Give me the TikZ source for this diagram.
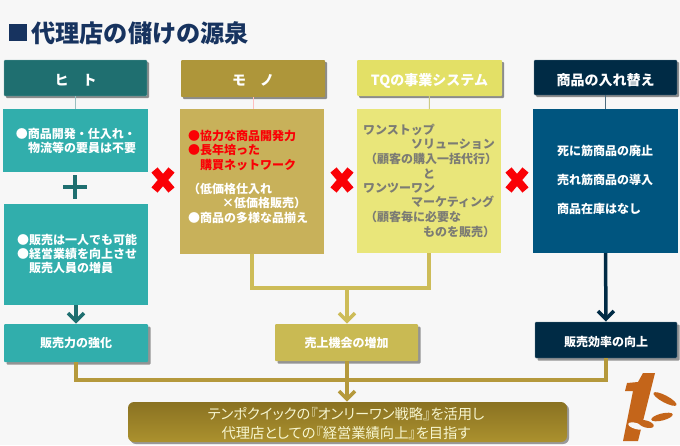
\documentclass[tikz,border=0pt]{standalone}
\usepackage{fontspec}
\setmainfont{Noto Sans CJK JP}
\newfontfamily\bannerfont[RawFeature=+palt]{Noto Sans CJK JP}
\usetikzlibrary{arrows.meta,shadows}
\definecolor{paper}{HTML}{F7F7F7}
\definecolor{titleblue}{HTML}{17335F}
\definecolor{tealdark}{HTML}{1F6F70}
\definecolor{teal}{HTML}{31AEAC}
\definecolor{goldhead}{HTML}{AE963A}
\definecolor{goldbody}{HTML}{C8B15A}
\definecolor{goldline}{HTML}{B5993C}
\definecolor{sand}{HTML}{C9BA53}
\definecolor{sandline}{HTML}{CDBC58}
\definecolor{yellowhead}{HTML}{E3E066}
\definecolor{yellowbody}{HTML}{E9E67A}
\definecolor{navy}{HTML}{002B45}
\definecolor{ocean}{HTML}{00557F}
\definecolor{greytext}{HTML}{7C7C74}
\definecolor{logo}{HTML}{C4651A}
\definecolor{crossred}{HTML}{FA0005}
\definecolor{bannertop}{HTML}{8A7222}
\definecolor{bannerfoot}{HTML}{AB912E}
\tikzset{
  panel/.style={anchor=north west,inner sep=0,outer sep=0,minimum width=#1},
  head/.style={panel=#1,rounded corners=1pt,font=\fontsize{14}{16}\selectfont\bfseries,text=white,
    copy shadow={shadow xshift=2pt,shadow yshift=-2pt,fill=black!45,draw=none}},
  body/.style={panel=#1},
  result/.style={panel=#1,rounded corners=1pt,font=\fontsize{12}{14}\selectfont\bfseries,text=white,
    copy shadow={shadow xshift=2.5pt,shadow yshift=-2.5pt,fill=black!42,draw=none}},
  line/.style={anchor=west,inner sep=0,outer sep=0,font=\fontsize{12}{14}\selectfont\bfseries},
  wline/.style={line,text=white},
  rline/.style={line,text=crossred},
  gline/.style={line,text=greytext},
  link/.style={line width=1pt},
  flow/.style={line width=3.5pt},
  tipped/.style={-{Straight Barb[length=8pt,width=16pt,line width=3.5pt]},shorten >=0.5pt},
  crossbar/.style={crossred,line width=8pt},
}
\newcommand{\redcross}[1]{%
  \draw[crossbar] (#1)++(-8.5,-10) -- ++(17,20);
  \draw[crossbar] (#1)++(8.5,-10) -- ++(-17,20);
}
% box text of fixed extent, set lower inside its box by the given amount
\newcommand{\lowered}[2]{\raisebox{-#1pt}[11pt][3pt]{#2}}
\begin{document}
\begin{tikzpicture}[x=1pt,y=-1pt]
\useasboundingbox (0,0) rectangle (680,445);
\fill[paper] (0,0) rectangle (680,445);

% heading
\fill[titleblue] (9,24) rectangle (27,41);
\node[anchor=west,inner sep=0,text=titleblue,font=\fontsize{24.2}{26}\selectfont\bfseries] (title) at (31,33) {代理店の儲けの源泉};

% column headers
\node[head=143pt,minimum height=36pt,fill=tealdark,draw=tealdark!60] (h1) at (4,60) {\lowered{3}{ヒ　ト}};
\node[head=144pt,minimum height=37pt,fill=goldhead] (h2) at (181,60) {\lowered{2.5}{モ　ノ}};
\node[head=145pt,minimum height=36pt,fill=yellowhead] (h3) at (357,60) {\lowered{3}{TQの事業システム}};
\node[head=143pt,minimum height=35pt,fill=navy,draw=navy!60] (h4) at (534,60) {\lowered{3.5}{商品の入れ替え}};

% column panels
\node[body=145pt,minimum height=63pt,fill=teal] (b1) at (3,109) {};
\node[body=144pt,minimum height=101pt,fill=teal] (b1b) at (4,204) {};
\node[body=144pt,minimum height=145pt,fill=goldbody] (b2) at (180,109) {};
\node[body=144pt,minimum height=144pt,fill=yellowbody] (b3) at (357,109) {};
\node[body=145pt,minimum height=144pt,fill=ocean] (b4) at (533,109) {};

% thin ties from header to panel
\draw[link,draw=tealdark!45] (h1) -- (b1);
\draw[link,draw=red!25] (h2.south) -- (h2.south |- b2.north);
\draw[link,draw=yellowhead!80!black!70] (h3) -- (b3);
\draw[link,draw=navy!70] (h4) -- (b4);

% outcome boxes
\node[result=144pt,minimum height=38pt,fill=teal] (r1) at (4,324) {販売力の強化};
\node[result=143pt,minimum height=37pt,fill=sand] (r2) at (275,324) {売上機会の増加};
\node[result=142pt,minimum height=36pt,fill=navy,draw=navy!60] (r4) at (535,322) {\lowered{2.5}{販売効率の向上}};

% closing banner
\node[panel=439pt,minimum height=40pt,rounded corners=6pt,top color=bannertop,bottom color=bannerfoot,
  copy shadow={shadow xshift=2pt,shadow yshift=-2pt,fill=black!40,draw=none}] (goal) at (128,402) {};
\node[inner sep=0,text=yellowbody!35!white,font=\bannerfont\fontsize{14.3}{19.5}\selectfont,align=center] (goaltext) at (346,423.5)
  {テンポクイックの『オンリーワン戦略』を活用し\\代理店としての『経営業績向上』を目指す};

% plus sign between the two teal panels
\coordinate (plusmid) at (75,187);
\draw[tealdark,line width=3.5pt] (plusmid)++(-12,0) -- ++(24,0);
\draw[tealdark,line width=3.5pt] (plusmid)++(0,-12) -- ++(0,24);

% multiplication marks
\coordinate (c1) at (163,180);
\coordinate (c2) at (342,180);
\coordinate (c3) at (517,180);
\redcross{c1}
\redcross{c2}
\redcross{c3}

% flow connectors
\coordinate (j1) at (347,288);
\coordinate (j2) at (347,380);
\draw[flow,tipped,draw=tealdark] (b1b.south -| r1.north) -- (r1.north);
\draw[flow,draw=sandline] (b2.south) |- (j1);
\draw[flow,draw=sandline] (b3.south) |- (j1);
\draw[flow,tipped,draw=sandline] (j1) -- (j1 |- r2.north);
\draw[flow,tipped,draw=navy] (b4.south) -- (r4.north);
\draw[flow,draw=goldline] (r1.south) |- (j2);
\draw[flow,draw=goldline] (r4.south) |- (j2);
\draw[flow,draw=goldline] (j2 |- r2.south) -- (j2);
\draw[flow,tipped,draw=goldline] (j2) -- (j2 |- goal.north);

% panel text, first teal panel
\node[wline] (t11) at (16,134) {●商品開発・仕入れ・};
\node[wline] (t12) at (28,148) {物流等の要員は不要};
\node[wline] (t13) at (17,240) {●販売は一人でも可能};
\node[wline] (t14) at (17,254) {●経営業績を向上させ};
\node[wline] (t15) at (29,268) {販売人員の増員};

% panel text, gold panel
\node[rline] (t21) at (188,136) {●協力な商品開発力};
\node[rline] (t22) at (188,150) {●長年培った};
\node[rline] (t23) at (200,165) {購買ネットワーク};
\node[wline] (t24) at (188,189) {（低価格仕入れ};
\node[wline] (t25) at (222,203) {×低価格販売）};
\node[wline] (t26) at (188,218) {●商品の多様な品揃え};

% panel text, yellow panel
\node[gline] (t31) at (363,130) {ワンストップ};
\node[gline] (t32) at (411,144) {ソリューション};
\node[gline] (t33) at (365,159) {（顧客の購入一括代行）};
\node[gline] (t34) at (423,174) {と};
\node[gline] (t35) at (363,188) {ワンツーワン};
\node[gline] (t36) at (411,202) {マーケティング};
\node[gline] (t37) at (365,217) {（顧客毎に必要な};
\node[gline] (t38) at (423,232) {ものを販売）};

% panel text, blue panel
\node[wline] (t41) at (557,151) {死に筋商品の廃止};
\node[wline] (t42) at (557,180) {売れ筋商品の導入};
\node[wline] (t43) at (557,209) {商品在庫はなし};

% numeral-one emblem with three leaves
\fill[logo] (643,373) -- (655,373) -- (638,441) -- (623,441) -- (633,391) -- (625,391) -- (627,383) -- (638,382) -- cycle;
\fill[logo,rotate around={-28:(665,399)}] (665,399) ellipse [x radius=13,y radius=3.5];
\fill[logo,rotate around={14:(662,417)}] (662,417) ellipse [x radius=11,y radius=3.5];
\fill[paper,rotate around={-16:(636,426)}] (636,426) ellipse [x radius=8,y radius=3];
\fill[logo,rotate around={-16:(646,424)}] (646,424) ellipse [x radius=8,y radius=3.5];
\end{tikzpicture}
\end{document}
